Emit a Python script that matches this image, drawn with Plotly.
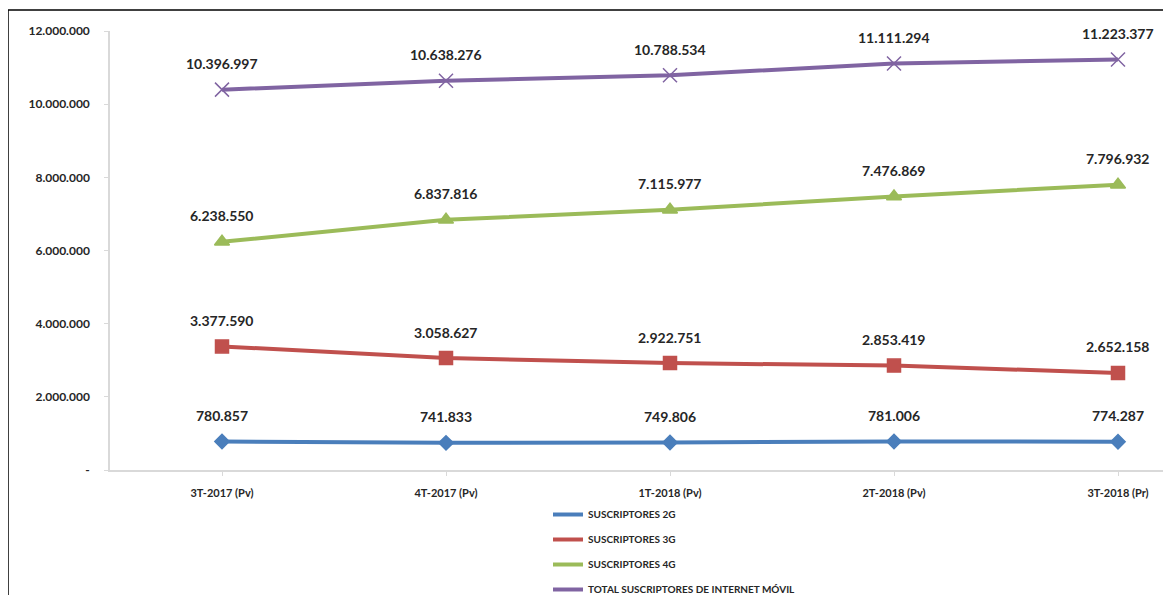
import plotly.graph_objects as go

categories = ["3T-2017 (Pv)", "4T-2017 (Pv)", "1T-2018 (Pv)", "2T-2018 (Pv)", "3T-2018 (Pr)"]
s2g = [780857, 741833, 749806, 781006, 774287]
s3g = [3377590, 3058627, 2922751, 2853419, 2652158]
s4g = [6238550, 6837816, 7115977, 7476869, 7796932]
total = [10396997, 10638276, 10788534, 11111294, 11223377]

y_ticks = [0, 2000000, 4000000, 6000000, 8000000, 10000000, 12000000]


def fmt(v):
    return f"{v:,}".replace(",", ".")


y_ticktext = ["-" if v == 0 else fmt(v) for v in y_ticks]

series = [
    ("SUSCRIPTORES 2G", s2g, "#4a7ebb", "diamond", 11),
    ("SUSCRIPTORES 3G", s3g, "#c0504d", "square", 13),
    ("SUSCRIPTORES 4G", s4g, "#9bbb59", "triangle-up", 13),
    ("TOTAL SUSCRIPTORES DE INTERNET MÓVIL", total, "#8064a2", "x-thin-open", 14),
]

FONT = "Lato"
fig = go.Figure()
annotations = []
for name, vals, color, sym, msize in series:
    fig.add_trace(go.Scatter(
        x=list(range(len(categories))), y=vals, name=name, mode="lines+markers",
        line=dict(color=color, width=4),
        marker=dict(symbol=sym, size=msize, color=color,
                    line=dict(color=color, width=1.5)),
        legendgroup=name, showlegend=False,
    ))
    # legend entry: plain line, like the reference legend
    fig.add_trace(go.Scatter(
        x=[None], y=[None], name=name, mode="lines",
        line=dict(color=color, width=4), legendgroup=name, showlegend=True,
    ))
    for i, v in enumerate(vals):
        annotations.append(dict(
            x=i, y=v, xref="x", yref="y", text=fmt(v), showarrow=False,
            yshift=26, font=dict(family=FONT, size=14, color="#262626", weight="bold"),
        ))

# page body has an 8px margin; figure origin sits at (8, 8) on the page
L, R, T, B = 102, 0, 23, 133
W, H = 1171, 595
pw = W - L - R
ph = H - T - B
bx = (0 - L) / pw
by = 1 + (T - 2) / ph

shapes = [
    dict(type="line", xref="paper", yref="paper", x0=bx, x1=1.05, y0=by, y1=by,
         line=dict(color="black", width=1.5)),
    dict(type="line", xref="paper", yref="paper", x0=bx, x1=bx, y0=-0.5, y1=by,
         line=dict(color="black", width=1.5)),
]

fig.update_layout(
    width=W, height=H,
    margin=dict(l=L, r=R, t=T, b=B),
    paper_bgcolor="white", plot_bgcolor="white",
    showlegend=True,
    legend=dict(x=(540 - L) / pw, y=1 - 492 / H, xref="paper", yref="container",
                xanchor="left", yanchor="top",
                font=dict(family=FONT, size=10, color="#262626", weight="bold"),
                tracegroupgap=6, itemwidth=30,
                bgcolor="rgba(0,0,0,0)"),
    annotations=annotations,
    shapes=shapes,
    xaxis=dict(
        range=[-0.5, -0.5 + pw / 224], tickmode="array",
        tickvals=list(range(len(categories))), ticktext=categories,
        showgrid=False, zeroline=False, showline=True, linecolor="#d9d9d9", linewidth=1.5,
        ticks="outside", tickson="boundaries", ticklen=4, tickcolor="#d9d9d9",
        ticklabelstandoff=8,
        tickfont=dict(family=FONT, size=11, color="#262626", weight="bold"),
    ),
    yaxis=dict(
        range=[0, 12000000], tickmode="array", tickvals=y_ticks, ticktext=y_ticktext,
        showgrid=False, zeroline=False, showline=True, linecolor="#d9d9d9", linewidth=1.5,
        ticks="outside", ticklen=4, tickcolor="#d9d9d9",
        ticklabelstandoff=12,
        tickfont=dict(family=FONT, size=12, color="#262626", weight="bold"),
    ),
)

fig.write_html("out.html")
